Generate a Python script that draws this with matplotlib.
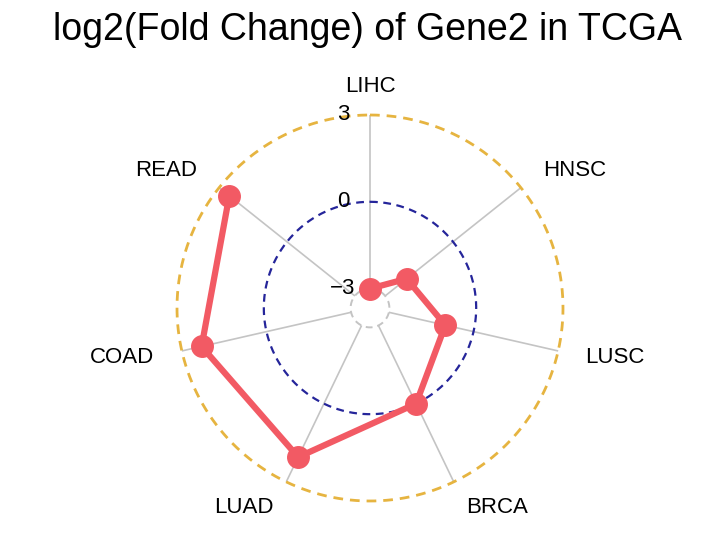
import numpy as np
import matplotlib
matplotlib.use("Agg")
import matplotlib.pyplot as plt
from matplotlib.transforms import ScaledTranslation

plt.rcParams['font.family'] = ['Liberation Sans', 'DejaVu Sans']

# data
cancers = ['LIHC', 'HNSC', 'LUSC', 'BRCA', 'LUAD', 'COAD', 'READ']
log2fc = [-3.0, -2.05, -1.0, 0.0, 2.05, 2.3, 2.55]
r_ticks = [-3, 0, 3]
r_tick_labels = ['\u22123', '0', '3']

theta = np.linspace(0, 2 * np.pi, len(cancers), endpoint=False)

fig = plt.figure(figsize=(7.2, 5.44), dpi=100)
ax = fig.add_axes([177 / 720, 43 / 544, 386 / 720, 386 / 544], projection='polar')
ax.set_theta_zero_location('N')
ax.set_theta_direction(-1)
ax.set_ylim(-3, 3)
ax.set_rorigin(-3.67)
ax.patch.set_visible(False)

# spokes
ax.set_xticks(theta)
ax.set_xticklabels([])
ax.xaxis.grid(True, color='#c4c4c4', linewidth=1.2)
ax.yaxis.grid(False)
ax.set_yticks(r_ticks)
ax.set_yticklabels([])

# spines get switched back on at draw time, so just make them invisible
for s in ax.spines.values():
    s.set_linewidth(0)
    s.set_edgecolor('none')

# reference circles
circ = np.linspace(0, 2 * np.pi, 400)
ax.plot(circ, np.full_like(circ, r_ticks[2]), color='#e6b440', lw=2.0, ls=(0, (3.5, 2.5)),
        clip_on=False)
ax.plot(circ, np.full_like(circ, r_ticks[1]), color='#25259a', lw=1.6, ls=(0, (3.5, 2.5)))
ax.plot(circ, np.full_like(circ, r_ticks[0]), color='#c4c4c4', lw=1.4, ls=(0, (3.5, 2.5)),
        clip_on=False)

# category labels just outside the outer circle
for t, name in zip(theta, cancers):
    s, c = np.sin(t), np.cos(t)
    ha = 'left' if s > 0.1 else ('right' if s < -0.1 else 'center')
    off = ScaledTranslation(0.28 * s, 0.28 * c, fig.dpi_scale_trans)
    ax.text(t, r_ticks[2], name, fontsize=16, ha=ha, va='center',
            transform=ax.transData + off)

# radial labels to the left of the top spoke
off = ScaledTranslation(-27 / 100, 0, fig.dpi_scale_trans)
for rv, lab in zip(r_ticks, r_tick_labels):
    ax.text(0, rv, lab, fontsize=16, ha='center', va='center',
            transform=ax.transData + off)

ax.plot(theta, log2fc, color='#f25a64', lw=4.5, marker='o', markersize=15.5,
        solid_capstyle='round', zorder=5, clip_on=False)

fig.text(0.51, 0.945, 'log2(Fold Change) of Gene2 in TCGA', fontsize=27,
         ha='center', va='center')

fig.savefig('out.png', dpi=100)
